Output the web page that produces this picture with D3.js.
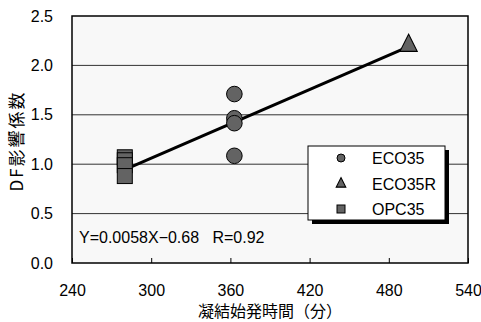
<!DOCTYPE html>
<html><head><meta charset="utf-8">
<script src="https://cdn.jsdelivr.net/npm/d3@7"></script>
<style>body{margin:0;background:#fff;}svg{display:block;}</style>
</head><body>
<svg id="c" width="481" height="322"></svg>
<script>
const xTicks = [240, 300, 360, 420, 480, 540];
const yTicks = [0.0, 0.5, 1.0, 1.5, 2.0, 2.5];
const eco35X = [363, 363, 363, 363];
const eco35Y = [1.71, 1.465, 1.415, 1.085];
const eco35RX = [495];
const eco35RY = [2.20];
const opc35X = [280, 280, 280, 280];
const opc35Y = [1.07, 1.04, 0.99, 0.88];
const fitSlope = 0.0058, fitIntercept = -0.68;
const fitRange = [280, 495];
const legendNames = ["ECO35", "ECO35R", "OPC35"];
const eqText = "Y=0.0058X\u22120.68   R=0.92";
const xTitle = "凝結始発時間（分）";
const yTitle = "DF影響係数";

const svg = d3.select("#c");
const L = 72, R = 468, T = 16, B = 263;
const x = d3.scaleLinear().domain([240, 540]).range([L, R]);
const y = d3.scaleLinear().domain([0, 2.5]).range([B, T]);
const font = "'Liberation Sans', Arial, sans-serif";
const fill = "#636363";

svg.append("rect").attr("x", L).attr("y", T).attr("width", R - L).attr("height", B - T)
  .attr("fill", "#f8f8f8");

svg.append("g").selectAll("line").data(yTicks.filter(d => d > 0 && d < 2.5)).join("line")
  .attr("x1", L).attr("x2", R).attr("y1", d => y(d)).attr("y2", d => y(d))
  .attr("stroke", "#333").attr("stroke-width", 1);

const xa = svg.append("g").attr("transform", `translate(0,${B})`)
  .call(d3.axisTop(x).tickValues(xTicks).tickSize(5).tickFormat(""));
xa.select(".domain").remove();
xa.selectAll("line").attr("stroke", "#000");
const xl = svg.append("g").attr("transform", `translate(0,${B})`)
  .call(d3.axisBottom(x).tickValues(xTicks).tickSize(0).tickPadding(22).tickFormat(d3.format("d")));
xl.select(".domain").remove();
xl.selectAll("text").attr("font-family", font).attr("font-size", 16).attr("fill", "#000");

const yl = svg.append("g").attr("transform", `translate(${L},0)`)
  .call(d3.axisLeft(y).tickValues(yTicks).tickSize(0).tickPadding(19).tickFormat(d3.format(".1f")));
yl.select(".domain").remove();
yl.selectAll("text").attr("font-family", font).attr("font-size", 16).attr("fill", "#000");

svg.append("rect").attr("x", L).attr("y", T).attr("width", R - L).attr("height", B - T)
  .attr("fill", "none").attr("stroke", "#000").attr("stroke-width", 1.5);

svg.append("line")
  .attr("x1", x(fitRange[0])).attr("y1", y(fitSlope * fitRange[0] + fitIntercept))
  .attr("x2", x(fitRange[1])).attr("y2", y(fitSlope * fitRange[1] + fitIntercept))
  .attr("stroke", "#000").attr("stroke-width", 3);

const sq = 15;
svg.append("g").selectAll("rect").data(opc35Y.map((v, i) => [opc35X[i], v])).join("rect")
  .attr("x", d => x(d[0]) - sq / 2).attr("y", d => y(d[1]) - sq / 2)
  .attr("width", sq).attr("height", sq)
  .attr("fill", fill).attr("stroke", "#000").attr("stroke-width", 1);

svg.append("g").selectAll("circle").data(eco35Y.map((v, i) => [eco35X[i], v])).join("circle")
  .attr("cx", d => x(d[0])).attr("cy", d => y(d[1])).attr("r", 7.8)
  .attr("fill", fill).attr("stroke", "#000").attr("stroke-width", 1);

const tri = d3.symbol().type(d3.symbolTriangle).size(130);
svg.append("g").selectAll("path").data(eco35RY.map((v, i) => [eco35RX[i], v])).join("path")
  .attr("d", tri).attr("transform", d => `translate(${x(d[0])},${y(d[1])}) scale(1,1.15)`)
  .attr("fill", fill).attr("stroke", "#000").attr("stroke-width", 1);

const lg = svg.append("g");
lg.append("rect").attr("x", 312).attr("y", 150).attr("width", 137).attr("height", 74).attr("fill", "#000");
lg.append("rect").attr("x", 308).attr("y", 146).attr("width", 137).attr("height", 74)
  .attr("fill", "#fff").attr("stroke", "#000").attr("stroke-width", 1);
const rows = [158, 184, 209];
lg.append("circle").attr("cx", 341).attr("cy", rows[0]).attr("r", 4)
  .attr("fill", fill).attr("stroke", "#000");
lg.append("path").attr("d", d3.symbol().type(d3.symbolTriangle).size(40))
  .attr("transform", `translate(341,${rows[1]}) scale(1,1.15)`).attr("fill", fill).attr("stroke", "#000");
lg.append("rect").attr("x", 337).attr("y", rows[2] - 4).attr("width", 8).attr("height", 8)
  .attr("fill", fill).attr("stroke", "#000");
lg.selectAll("text").data(legendNames).join("text")
  .attr("x", 372).attr("y", (d, i) => rows[i] + 6)
  .attr("font-family", font).attr("font-size", 16).text(d => d);

svg.append("text").attr("x", 79).attr("y", 243).attr("font-family", font).attr("font-size", 16)
  .attr("xml:space", "preserve").style("white-space", "pre").text(eqText);

svg.append("text").attr("x", (L + R) / 2).attr("y", 317).attr("text-anchor", "middle")
  .attr("font-family", "'Noto Sans CJK JP', sans-serif").attr("font-size", 16).text(xTitle);

svg.append("text").attr("transform", "translate(23,141) rotate(-90)").attr("text-anchor", "middle")
  .attr("font-family", "'Noto Sans CJK JP', sans-serif").attr("font-size", 17)
  .attr("letter-spacing", 2).text(yTitle);
</script>
</body></html>
